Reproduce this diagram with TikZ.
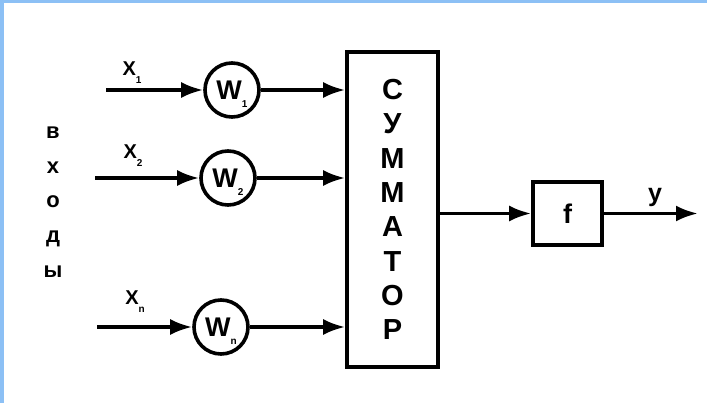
\documentclass[tikz,border=0pt]{standalone}
\usepackage{fontspec}
\setmainfont{Liberation Sans}
\usetikzlibrary{arrows.meta}
\definecolor{slideblue}{RGB}{140,192,245}
\newcommand{\lowsub}[1]{\raisebox{-8pt}[0pt][0pt]{\fontsize{10}{10}\selectfont #1}}

\begin{document}
\begin{tikzpicture}[x=1pt, y=-1pt, line width=3.6pt,
  weight/.style={circle, draw, minimum size=54pt, inner sep=0pt, font=\fontsize{27}{27}\selectfont\bfseries},
  block/.style={rectangle, draw, inner sep=0pt},
  arr/.style={-{Latex[length=22pt,width=16pt]}},
  lbl/.style={font=\fontsize{20}{20}\selectfont\bfseries}]
  \useasboundingbox (0,0) rectangle (707,403);
  \fill[slideblue] (0,0) rectangle (4,403);
  \fill[slideblue] (0,0) rectangle (707,3);

  \node[align=center, font=\fontsize{22}{34.7}\selectfont\bfseries] (inputs) at (53,202) {в\\х\\о\\д\\ы};

  \node[weight] (w1) at (232,90) {W\lowsub{1}};
  \node[weight] (w2) at (228,178) {W\lowsub{2}};
  \node[weight] (wn) at (221,327) {W\lowsub{n}};

  \node[lbl] (x1) at (132,69) {X\lowsub{1}};
  \node[lbl] (x2) at (133,152) {X\lowsub{2}};
  \node[lbl] (xn) at (135,298) {X\lowsub{n}};

  \node[block, minimum width=91pt, minimum height=315pt, align=center,
    font=\fontsize{29}{34.3}\selectfont\bfseries] (sum) at (392.5,209.5) {С\\У\\М\\М\\А\\Т\\О\\Р};
  \node[block, minimum width=69pt, minimum height=63pt, font=\fontsize{27}{27}\selectfont\bfseries] (f) at (567.5,213.5) {f};
  \node[font=\fontsize{25}{25}\selectfont\bfseries] (y) at (655,197) {y};

  \coordinate (in1) at (106,90);
  \coordinate (in2) at (95,178);
  \coordinate (inn) at (97,327);
  \coordinate (out) at (698,213.5);

  \draw[arr] (in1) -- (w1);
  \draw[arr] (in2) -- (w2);
  \draw[arr] (inn) -- (wn);
  \draw[arr] (w1) -- (w1 -| sum.west);
  \draw[arr] (w2) -- (w2 -| sum.west);
  \draw[arr] (wn) -- (wn -| sum.west);
  \draw[arr] (sum.east |- f.west) -- (f.west);
  \draw[arr] (f) -- (out);
\end{tikzpicture}
\end{document}
